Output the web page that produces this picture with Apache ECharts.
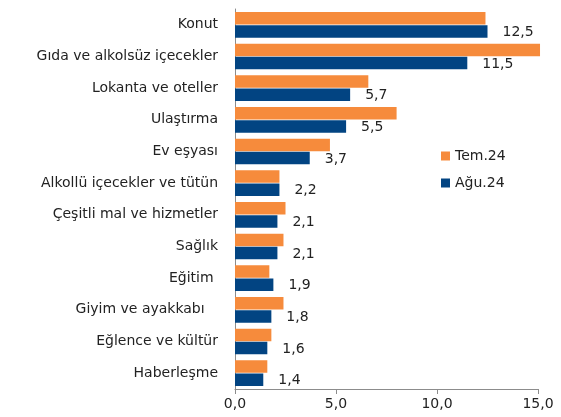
<!DOCTYPE html>
<html>
<head>
<meta charset="utf-8">
<script src="https://cdn.jsdelivr.net/npm/echarts@6/dist/echarts.min.js"></script>
<style>
  html, body { margin: 0; padding: 0; background: #fff; }
  #chart { width: 561px; height: 417px; }
</style>
</head>
<body>
<div id="chart"></div>
<script>
// categories, top to bottom
var categories = ['Konut', 'Gıda ve alkolsüz içecekler', 'Lokanta ve oteller', 'Ulaştırma',
  'Ev eşyası', 'Alkollü içecekler ve tütün', 'Çeşitli mal ve hizmetler', 'Sağlık',
  'Eğitim ', 'Giyim ve ayakkabı   ', 'Eğlence ve kültür', 'Haberleşme'];
var tem24 = [12.4, 15.1, 6.6, 8.0, 4.7, 2.2, 2.5, 2.4, 1.7, 2.4, 1.8, 1.6];
var agu24 = [12.5, 11.5, 5.7, 5.5, 3.7, 2.2, 2.1, 2.1, 1.9, 1.8, 1.6, 1.4];
var xTicks = [0, 5, 10, 15];

var font = 'DejaVu Sans';
var chart = echarts.init(document.getElementById('chart'), null, { renderer: 'canvas' });

chart.setOption({
  animation: false,
  textStyle: { fontFamily: font },
  grid: { left: 235, right: 23, top: 9, bottom: 28 },
  legend: {
    orient: 'vertical',
    left: 436, top: 144,
    itemWidth: 9, itemHeight: 9, itemGap: 13,
    icon: 'rect',
    textStyle: { fontSize: 14, color: '#222', fontFamily: font },
    data: ['Tem.24', 'Ağu.24']
  },
  xAxis: {
    type: 'value',
    min: xTicks[0], max: xTicks[xTicks.length - 1], interval: 5,
    axisLine: { show: true, lineStyle: { color: '#8c8c8c' } },
    axisTick: { show: true, length: 5, lineStyle: { color: '#8c8c8c' } },
    splitLine: { show: false },
    axisLabel: {
      fontSize: 14, color: '#222', margin: 8,
      formatter: function (v) { return v.toFixed(1).replace('.', ','); }
    }
  },
  yAxis: {
    type: 'category',
    inverse: true,
    data: categories,
    axisLine: { lineStyle: { color: '#8c8c8c' } },
    axisTick: { length: 5, lineStyle: { color: '#8c8c8c' } },
    axisLabel: { fontSize: 14, color: '#222', margin: 17 }
  },
  series: [
    {
      name: 'Tem.24', type: 'bar', data: tem24,
      barWidth: 12.5, barGap: '5%', clip: false,
      itemStyle: { color: '#f68b3c' }
    },
    {
      name: 'Ağu.24', type: 'bar', data: agu24,
      barWidth: 12.5, barGap: '5%',
      itemStyle: { color: '#024482' },
      label: {
        show: true, position: 'right', distance: 15, offset: [0, 1],
        fontSize: 14, color: '#222',
        formatter: function (p) { return p.value.toFixed(1).replace('.', ','); }
      }
    }
  ]
});
</script>
</body>
</html>
